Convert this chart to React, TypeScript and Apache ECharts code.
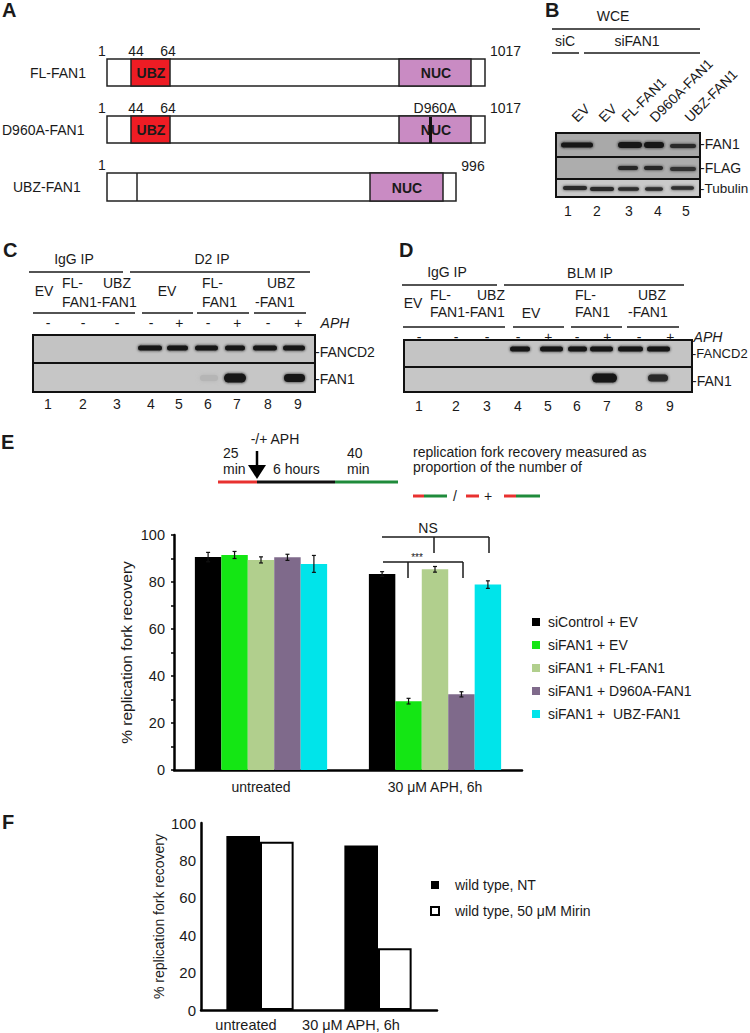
import React, { useEffect, useRef } from "react";
import * as echarts from "echarts";

const FONT = "'Liberation Sans', Arial, Helvetica, sans-serif";
const INK = "#1a1a1a";

// ---------- Panel E data ----------
const eCategories = ["untreated", "30 μM APH, 6h"];
const eSeriesNames = [
  "siControl + EV",
  "siFAN1 + EV",
  "siFAN1 + FL-FAN1",
  "siFAN1 + D960A-FAN1",
  "siFAN1 +  UBZ-FAN1",
];
const eColors = ["#000000", "#14e614", "#b1cf8d", "#7f6a8b", "#00e4ea"];
const eUntreated = [90.6, 91.5, 89.4, 90.5, 87.7];
const eUntreatedErr = [2.0, 1.5, 1.3, 1.3, 3.6];
const eAph = [83.4, 29.3, 85.4, 32.2, 78.9];
const eAphErr = [1.0, 1.2, 1.2, 1.1, 1.6];
const eYMax = 100;
const eYInterval = 20;

// ---------- Panel F data ----------
const fCategories = ["untreated", "30 μM APH, 6h"];
const fSeriesNames = ["wild type, NT", "wild type, 50 μM Mirin"];
const fNT = [93, 88];
const fMirin = [90, 33];

// ---------- helpers for the schematic / blot panels ----------
function T(text: string, x: number, y: number, o: any = {}) {
  const align = o.align || "center";
  const size = o.size || 14;
  return {
    type: "text",
    x,
    y,
    rotation: o.rotation || 0,
    silent: true,
    z: 20,
    style: {
      legacy: false,
      text,
      x: 0,
      y: 0,
      fill: o.fill || INK,
      font: `${o.italic ? "italic " : ""}${o.bold ? "bold " : ""}${size}px ${FONT}`,
      fontSize: size,
      fontFamily: FONT,
      fontWeight: o.bold ? "bold" : "normal",
      fontStyle: o.italic ? "italic" : "normal",
      align,
      verticalAlign: "middle",
    },
  };
}
function L(x1: number, y1: number, x2: number, y2: number, w = 1.5, c = INK) {
  return { type: "line", silent: true, z: 15, shape: { x1, y1, x2, y2 }, style: { stroke: c, lineWidth: w } };
}
function R(x: number, y: number, w: number, h: number, fill: string, stroke = "#222", lw = 1.5, z = 10) {
  return {
    type: "rect",
    silent: true,
    z,
    shape: { x, y, width: w, height: h },
    style: { fill, stroke: stroke === "none" ? undefined : stroke, lineWidth: stroke === "none" ? 0 : lw },
  };
}
function band(x1: number, x2: number, yc: number, h: number, color = "#161616", blur = 3) {
  return {
    type: "rect",
    silent: true,
    z: 12,
    shape: { x: x1, y: yc - h / 2, width: x2 - x1, height: h, r: h / 2 },
    style: { fill: color, shadowBlur: blur, shadowColor: color },
  };
}

// Panel A: domain schematic rows
const aRows = [
  { label: "FL-FAN1", labelX: 30, top: 59, len: 378 },
  { label: "D960A-FAN1", labelX: 2, top: 116, len: 378 },
  { label: "UBZ-FAN1", labelX: 13, top: 173, len: 349 },
];

// Blot lane layouts
const bLaneNums = [568, 597, 629, 658, 686];
const bLaneNames = ["EV", "EV", "FL-FAN1", "D960A-FAN1", "UBZ-FAN1"];
const bLaneAnchors = [574, 601, 624, 652, 687];
const cLaneX = [48, 83, 117, 151, 179, 208, 237, 268, 298];
const dLaneX = [419, 456, 487, 518, 548, 577, 607, 639, 670];
const aphSigns = ["-", "-", "-", "-", "+", "-", "+", "-", "+"];

function buildGraphics() {
  const g: any[] = [];
  // ---------- A ----------
  g.push(T("A", 2, 10, { bold: true, size: 20, align: "left" }));
  aRows.forEach((r, i) => {
    const h = 27;
    const cy = r.top + h / 2;
    g.push(R(107, r.top, r.len, i === 2 ? 28 : h, "#ffffff"));
    g.push(T(r.label, r.labelX, cy, { align: "left" }));
    g.push(T("1", 102, r.top - 8));
    if (i < 2) {
      g.push(R(131, r.top, 39, h, "#ee1c24"));
      g.push(R(399, r.top, 72, h, "#c98bc3"));
      g.push(T("UBZ", 151, cy, { bold: true }));
      g.push(T("NUC", 436, cy, { bold: true }));
      g.push(T("44", 136, r.top - 8));
      g.push(T("64", 168, r.top - 8));
      g.push(T("1017", 490, r.top - 8, { align: "left" }));
    } else {
      g.push(L(137, r.top, 137, r.top + 28, 1.5, "#222"));
      g.push(R(370, r.top, 73, 28, "#c98bc3"));
      g.push(T("NUC", 407, cy + 1, { bold: true }));
      g.push(T("996", 473, r.top - 7));
    }
    if (i === 1) {
      g.push(R(429, r.top + 1, 3, h - 1, "#111", "none", 0, 25));
      g.push(T("D960A", 435, r.top - 8));
    }
  });

  // ---------- B ----------
  g.push(T("B", 545, 10, { bold: true, size: 20, align: "left" }));
  g.push(T("WCE", 613, 16));
  g.push(L(552, 29, 700, 29));
  g.push(T("siC", 565, 41));
  g.push(L(552, 53, 579, 53));
  g.push(T("siFAN1", 637, 41));
  g.push(L(584, 53, 700, 53));
  bLaneNames.forEach((n, i) => g.push(T(n, bLaneAnchors[i], 119.5, { align: "left", rotation: Math.PI / 4 })));
  g.push(R(556, 133, 144, 24, "#a9a9a9", "none", 0));
  g.push(R(556, 157, 144, 22, "#adadad", "none", 0));
  g.push(R(556, 179, 144, 18, "#c9c9c9", "none", 0));
  g.push(R(556, 133, 144, 64, "none", "#111", 2, 18));
  g.push(L(556, 157, 700, 157, 2, "#111"));
  g.push(L(556, 179, 700, 179, 2, "#111"));
  // FAN1
  g.push(band(561, 593, 145, 5));
  g.push(band(618, 642, 145, 6));
  g.push(band(644, 664, 145, 6));
  g.push(band(670, 696, 146, 4, "#2a2a2a"));
  // FLAG
  g.push(band(618, 638, 168, 4, "#262626"));
  g.push(band(644, 663, 168, 4, "#262626"));
  g.push(band(670, 696, 169, 4, "#333"));
  // Tubulin
  g.push(band(563, 587, 188, 4, "#2a2a2a"));
  g.push(band(590, 614, 189, 4, "#2a2a2a"));
  g.push(band(618, 639, 189, 3.5, "#2e2e2e"));
  g.push(band(645, 663, 189, 3.5, "#2e2e2e"));
  g.push(band(671, 694, 188, 3.5, "#2e2e2e"));
  g.push(T("-FAN1", 700, 144, { align: "left" }));
  g.push(T("-FLAG", 700, 168, { align: "left" }));
  g.push(T("-Tubulin", 700, 188, { align: "left", size: 13.5 }));
  bLaneNums.forEach((x, i) => g.push(T(String(i + 1), x, 211)));

  // ---------- C ----------
  g.push(T("C", 3, 250, { bold: true, size: 20, align: "left" }));
  g.push(T("IgG IP", 74, 259));
  g.push(L(29, 272, 123, 272));
  g.push(T("D2 IP", 212, 259));
  g.push(L(130, 272, 310, 272));
  g.push(T("EV", 44, 291));
  g.push(T("FL-", 62, 283, { align: "left" }));
  g.push(T("FAN1", 62, 302, { align: "left" }));
  g.push(T("UBZ", 103, 283, { align: "left" }));
  g.push(T("-FAN1", 97, 302, { align: "left" }));
  g.push(T("EV", 167, 291));
  g.push(T("FL-", 202, 283, { align: "left" }));
  g.push(T("FAN1", 202, 302, { align: "left" }));
  g.push(T("UBZ", 267, 283, { align: "left" }));
  g.push(T("-FAN1", 255, 302, { align: "left" }));
  g.push(L(33, 313, 135, 313));
  g.push(L(142, 313, 193, 313));
  g.push(L(197, 313, 249, 313));
  g.push(L(254, 313, 306, 313));
  cLaneX.forEach((x, i) => {
    g.push(T(aphSigns[i], x, 323, { italic: aphSigns[i] === "+" }));
    g.push(T(String(i + 1), x, 404));
  });
  g.push(T("APH", 335, 323, { italic: true }));
  g.push(R(33, 335, 282, 28, "#c3c3c3", "none", 0));
  g.push(R(33, 363, 282, 29, "#c6c6c6", "none", 0));
  g.push(R(33, 335, 282, 57, "none", "#111", 2, 18));
  g.push(L(33, 363, 315, 363, 2, "#111"));
  [[138, 162], [167, 188], [195, 218], [225, 245], [253, 277], [283, 305]].forEach(([a, b]) =>
    g.push(band(a, b, 348, 5))
  );
  g.push(band(200, 218, 378, 6, "#b5b5b5", 4));
  g.push(band(224, 246, 378, 9));
  g.push(band(284, 305, 378, 8));
  g.push(T("-FANCD2", 315, 352, { align: "left" }));
  g.push(T("-FAN1", 315, 379, { align: "left" }));

  // ---------- D ----------
  g.push(T("D", 399, 250, { bold: true, size: 20, align: "left" }));
  g.push(T("IgG IP", 447, 272));
  g.push(L(402, 285, 497, 285));
  g.push(T("BLM IP", 590, 273));
  g.push(L(504, 285, 684, 285));
  g.push(T("EV", 413, 303));
  g.push(T("FL-", 430, 295, { align: "left" }));
  g.push(T("FAN1", 430, 312, { align: "left" }));
  g.push(T("UBZ", 477, 295, { align: "left" }));
  g.push(T("-FAN1", 465, 312, { align: "left" }));
  g.push(T("EV", 531, 313));
  g.push(T("FL-", 575, 295, { align: "left" }));
  g.push(T("FAN1", 575, 312, { align: "left" }));
  g.push(T("UBZ", 638, 295, { align: "left" }));
  g.push(T("-FAN1", 628, 312, { align: "left" }));
  g.push(L(403, 327, 505, 327));
  g.push(L(513, 327, 564, 327));
  g.push(L(571, 327, 622, 327));
  g.push(L(627, 327, 679, 327));
  dLaneX.forEach((x, i) => {
    g.push(T(aphSigns[i], x, 337, { italic: aphSigns[i] === "+" }));
    g.push(T(String(i + 1), x, 406));
  });
  g.push(T("APH", 708, 337, { italic: true }));
  g.push(R(404, 340, 288, 27, "#c4c4c4", "none", 0));
  g.push(R(404, 367, 288, 25, "#c6c6c6", "none", 0));
  g.push(R(404, 340, 288, 52, "none", "#111", 2, 18));
  g.push(L(404, 367, 692, 367, 2, "#111"));
  [[510, 530], [540, 563], [568, 587], [590, 613], [618, 643], [647, 670]].forEach(([a, b]) =>
    g.push(band(a, b, 349, 5))
  );
  g.push(band(592, 617, 378, 9));
  g.push(band(648, 668, 378, 7, "#2a2a2a"));
  g.push(T("-FANCD2", 692, 353, { align: "left", size: 13 }));
  g.push(T("-FAN1", 692, 381, { align: "left" }));

  // ---------- E schematic ----------
  g.push(T("E", 1, 442, { bold: true, size: 20, align: "left" }));
  g.push(T("-/+ APH", 275, 439));
  g.push(T("25", 223, 453, { align: "left" }));
  g.push(T("min", 223, 469, { align: "left" }));
  g.push(T("6 hours", 273, 469, { align: "left" }));
  g.push(T("40", 347, 453, { align: "left" }));
  g.push(T("min", 347, 469, { align: "left" }));
  g.push(L(257, 451, 257, 467, 2.5, "#000"));
  g.push({
    type: "polygon",
    silent: true,
    z: 16,
    shape: { points: [[248, 465], [266, 465], [257, 479]] },
    style: { fill: "#000" },
  });
  g.push(L(218, 482, 257, 482, 3, "#e8312f"));
  g.push(L(257, 482, 335, 482, 3, "#111"));
  g.push(L(335, 482, 398, 482, 3, "#1f8b3b"));
  g.push(T("replication fork recovery measured as", 413, 452, { align: "left" }));
  g.push(T("proportion of the number of", 413, 467, { align: "left" }));
  g.push(L(413, 496, 424, 496, 3, "#e8312f"));
  g.push(L(424, 496, 447, 496, 3, "#1f8b3b"));
  g.push(T("/", 455, 496));
  g.push(L(466, 496, 479, 496, 3, "#e8312f"));
  g.push(T("+", 488, 496));
  g.push(L(504, 496, 516, 496, 3, "#e8312f"));
  g.push(L(516, 496, 540, 496, 3, "#1f8b3b"));

  // significance brackets
  g.push(T("NS", 428, 528));
  g.push(L(382, 537, 489, 537));
  g.push(L(434, 537, 434, 553));
  g.push(L(489, 537, 489, 553));
  g.push(T("***", 417, 557, { size: 10 }));
  g.push(L(383, 562, 463, 562));
  g.push(L(408, 562, 408, 578));
  g.push(L(463, 562, 463, 578));

  // ---------- F ----------
  g.push(T("F", 2, 822, { bold: true, size: 20, align: "left" }));
  g.push(T(fCategories[0], 246, 1025, { size: 14.5 }));
  g.push(T(fCategories[1], 351, 1025, { size: 14.5 }));
  return g;
}

export default function App() {
  const ref = useRef<HTMLDivElement>(null);
  useEffect(() => {
    if (!ref.current) return;
    const chart = echarts.init(ref.current, undefined, { renderer: "svg" });
    const axisText = { color: INK, fontFamily: FONT };

    const eBars = eSeriesNames.map((name, i) => ({
      type: "bar",
      name,
      xAxisIndex: 0,
      yAxisIndex: 0,
      data: [eUntreated[i], eAph[i]],
      barGap: "0%",
      barCategoryGap: "24%",
      itemStyle: { color: eColors[i] },
      z: 2,
    }));
    const eErr = eSeriesNames.map((name, i) => ({
      type: "custom",
      name: "err-" + i,
      xAxisIndex: 0,
      yAxisIndex: 0,
      z: 5,
      encode: { x: 0, y: 1 },
      data: [
        [0, eUntreated[i], eUntreatedErr[i]],
        [1, eAph[i], eAphErr[i]],
      ],
      renderItem: (params: any, api: any) => {
        const cat = api.value(0);
        const mean = api.value(1);
        const err = api.value(2);
        const bandW = api.size([1, 0])[0];
        const barW = (bandW * (1 - 0.24)) / eSeriesNames.length;
        const cx = api.coord([cat, 0])[0] + (i - (eSeriesNames.length - 1) / 2) * barW;
        const top = api.coord([cat, mean + err])[1];
        const bot = api.coord([cat, mean - err])[1];
        const st = { stroke: "#111", lineWidth: 1.2 };
        return {
          type: "group",
          children: [
            { type: "line", shape: { x1: cx, y1: top, x2: cx, y2: bot }, style: st },
            { type: "line", shape: { x1: cx - 2, y1: top, x2: cx + 2, y2: top }, style: st },
            { type: "line", shape: { x1: cx - 2, y1: bot, x2: cx + 2, y2: bot }, style: st },
          ],
        };
      },
    }));

    const option: any = {
      animation: false,
      backgroundColor: "#ffffff",
      textStyle: { fontFamily: FONT },
      grid: [
        { left: 174, top: 535, width: 348, height: 235, containLabel: false },
        { left: 201, top: 823, width: 236, height: 187, containLabel: false },
      ],
      xAxis: [
        {
          gridIndex: 0,
          type: "category",
          data: eCategories,
          axisLine: { lineStyle: { color: "#000", width: 2.5 } },
          axisTick: { show: false },
          axisLabel: { ...axisText, fontSize: 14, margin: 10 },
        },
        {
          gridIndex: 1,
          type: "category",
          data: fCategories,
          axisLine: { lineStyle: { color: "#000", width: 2.5 } },
          axisTick: { show: false },
          axisLabel: { show: false },
        },
      ],
      yAxis: [
        {
          gridIndex: 0,
          type: "value",
          min: 0,
          max: eYMax,
          interval: eYInterval,
          axisLine: { show: true, lineStyle: { color: "#000", width: 2.5 } },
          axisTick: { show: true, length: 3, lineStyle: { color: "#000", width: 1.5 } },
          minorTick: { show: true, splitNumber: 2, length: 3, lineStyle: { color: "#000", width: 1.5 } },
          splitLine: { show: false },
          axisLabel: { ...axisText, fontSize: 14.5, margin: 9 },
          name: "% replication fork recovery",
          nameLocation: "middle",
          nameGap: 40,
          nameTextStyle: { ...axisText, fontSize: 15.5 },
        },
        {
          gridIndex: 1,
          type: "value",
          min: 0,
          max: 100,
          interval: 20,
          axisLine: { show: true, lineStyle: { color: "#000", width: 2.5 } },
          axisTick: { show: false },
          splitLine: { show: false },
          axisLabel: { ...axisText, fontSize: 15, margin: 5 },
          name: "% replication fork recovery",
          nameLocation: "middle",
          nameGap: 35,
          nameTextStyle: { ...axisText, fontSize: 14 },
        },
      ],
      legend: [
        {
          data: eSeriesNames,
          orient: "vertical",
          left: 527,
          top: 610,
          itemWidth: 8,
          itemHeight: 8,
          itemGap: 9,
          icon: "rect",
          selectedMode: false,
          textStyle: { ...axisText, fontSize: 14, lineHeight: 14, padding: [0, 0, 0, 3] },
        },
        {
          data: fSeriesNames,
          orient: "vertical",
          left: 425,
          top: 873,
          itemWidth: 8,
          itemHeight: 8,
          itemGap: 12,
          icon: "rect",
          selectedMode: false,
          textStyle: { ...axisText, fontSize: 14, lineHeight: 14, padding: [0, 0, 0, 11] },
        },
      ],
      series: [
        ...eBars,
        ...eErr,
        {
          type: "bar",
          name: fSeriesNames[0],
          xAxisIndex: 1,
          yAxisIndex: 1,
          data: fNT,
          barGap: "0%",
          barCategoryGap: "43%",
          itemStyle: { color: "#000" },
        },
        {
          type: "bar",
          name: fSeriesNames[1],
          xAxisIndex: 1,
          yAxisIndex: 1,
          data: fMirin,
          barGap: "0%",
          barCategoryGap: "43%",
          itemStyle: { color: "#fff", borderColor: "#000", borderWidth: 2 },
        },
      ],
      graphic: { elements: buildGraphics() },
    };
    chart.setOption(option);
    return () => chart.dispose();
  }, []);
  return (
    <div
      ref={ref}
      style={{ position: "absolute", left: 0, top: 0, width: 750, height: 1033, background: "#fff" }}
    />
  );
}
